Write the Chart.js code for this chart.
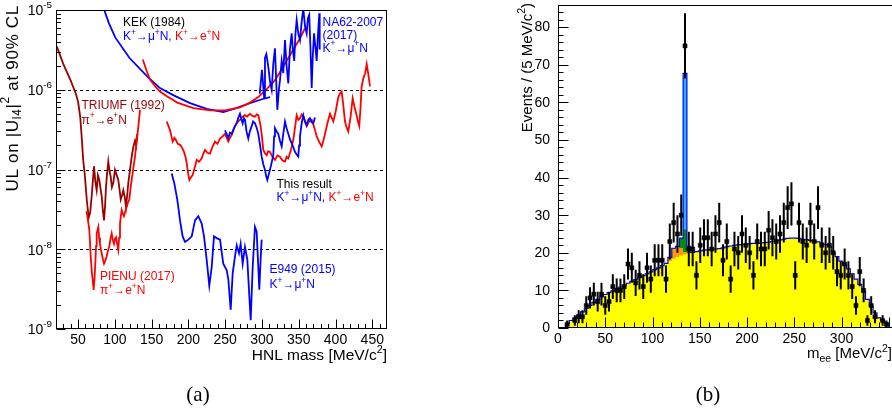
<!DOCTYPE html>
<html><head><meta charset="utf-8">
<script src="https://cdn.jsdelivr.net/npm/chart.js@4.4.1/dist/chart.umd.min.js"></script>
<style>
html,body{margin:0;padding:0;background:#fff;overflow:hidden;width:892px;height:416px;}
#c1{position:absolute;left:0;top:0;}
#c2{position:absolute;left:446px;top:0;}
</style></head><body>
<canvas id="c1" width="446" height="416"></canvas>
<canvas id="c2" width="452" height="416"></canvas>
<script>
// ================= Panel (a): upper limits on |U_l4|^2 =================
const massTicksA = [50,100,150,200,250,300,350,400,450];
const decadesA = [-9,-8,-7,-6,-5];
const dashedLevelsA = [1e-6,1e-7,1e-8];

const kekMu = [[84,1.1e-5],[92,6.8e-6],[100.7,4.5e-6],[120,2.5e-6],[143.6,1.48e-6],[161.4,1.05e-6],[180,8.5e-7],[202.2,6.8e-7],[225,5.75e-7],[247.5,5.25e-7],[265,5.9e-7],[283.7,6.8e-7],[300,7.6e-7],[310.9,8.1e-7]];
const kekE = [[138,2.4e-6],[143,1.74e-6],[148,1.33e-6],[155,1.1e-6],[161.4,9.5e-7],[170.7,8.3e-7],[185,6.9e-7],[206.7,5.9e-7],[230,5.5e-7],[250,5.5e-7],[270,6.0e-7],[283.7,6.9e-7],[295,8.1e-7],[306.4,1.02e-6],[317.7,1.32e-6],[329,1.95e-6],[342.6,3.2e-6],[351,4.3e-6],[358.5,5.9e-6]];
const na62Mu = [[297,8.9e-7],[300,1.78e-6],[303,7.9e-7],[304.1,2.5e-6],[306,2.8e-6],[308.6,1.95e-6],[311,1.26e-6],[313.2,1.0e-6],[315.4,2.1e-6],[317.7,3.3e-6],[319,1.58e-6],[320.9,5.6e-7],[323,1.0e-6],[324.5,1.32e-6],[326.8,2.3e-6],[329,1.62e-6],[331.3,4.2e-6],[333.5,2.0e-6],[335.8,1.2e-6],[338,3.2e-6],[340.4,5.1e-6],[342,3.2e-6],[343.9,2.3e-6],[345.5,5.0e-6],[347.2,7.5e-6],[349.5,5.0e-6],[351.7,4.2e-6],[354,7.1e-6],[356.2,1.05e-5],[358.5,6.3e-6],[360.8,5.1e-6],[362.5,7.9e-6],[364.3,8.7e-6],[366,3.2e-6],[367.6,1.05e-6],[369,2.5e-6],[370.8,5.1e-6],[372.6,3.5e-6],[374.4,2.3e-6],[376.2,5.0e-6],[378,9.1e-6],[378.5,3.2e-6]];
const triumfE = [[21,3.5e-6],[30,2.1e-6],[40,1.3e-6],[47,8.9e-7],[50,7.1e-7],[53,4.5e-7],[55,2.5e-7],[57,1.3e-7],[59,8.9e-8],[62,4.0e-8],[64.5,2.5e-8],[66.5,2.9e-8],[68.5,4.6e-8],[70.5,8.0e-8],[71.7,1.1e-7],[73.5,7.0e-8],[75.3,5.5e-8],[77,8.5e-8],[78.9,7.4e-8],[80.5,5.8e-8],[82.1,4.6e-8],[83.8,3.0e-8],[85.3,2.3e-8],[86.8,3.6e-8],[88,6.1e-8],[89.5,9.0e-8],[91.1,1.26e-7],[92.8,9.5e-8],[94.4,8.1e-8],[96,6.0e-8],[97.9,6.8e-8],[100.2,9.9e-8],[102.5,8.5e-8],[104.7,7.4e-8],[106.5,5.5e-8],[108,4.2e-8],[110,4.8e-8],[111.5,5.5e-8],[113.5,4.5e-8],[115.2,3.4e-8],[117,5.0e-8],[118.3,6.8e-8],[120.6,9.9e-8],[122.9,1.45e-7],[125,1.9e-7],[127.4,2.3e-7],[129,2.0e-7],[130.5,2.8e-7]];
const pienuE = [[61.5,3.0e-8],[63.5,2.3e-8],[65.3,1.74e-8],[67.2,8.1e-9],[68.7,5.2e-9],[69.9,4.1e-9],[71.2,3.1e-9],[72.4,4.3e-9],[73.4,6.6e-9],[74.5,1.1e-8],[75.3,1.58e-8],[76.5,1.75e-8],[77.5,1.9e-8],[78.6,1.4e-8],[79.8,1.17e-8],[81,1.0e-8],[82.1,8.9e-9],[83.8,7.5e-9],[85.3,6.6e-9],[87,7.2e-9],[88.9,8.1e-9],[90.5,9.5e-9],[92.4,1.07e-8],[94,1.35e-8],[95.7,1.58e-8],[97.3,1.3e-8],[98.8,1.17e-8],[100.2,1.35e-8],[101.6,1.41e-8],[103.2,1.15e-8],[104.7,9.8e-9],[105.8,1.4e-8],[107,2.1e-8],[108.2,2.6e-8],[109.3,3.1e-8],[110.8,2.8e-8],[112.4,2.6e-8],[114.2,3.0e-8],[116.1,3.4e-8],[118,3.9e-8],[119.7,4.2e-8],[121.3,5.8e-8],[122.9,7.4e-8],[125.2,1.05e-7],[127.4,1.45e-7],[129,2.0e-7],[130.5,2.6e-7],[132.4,3.8e-7],[134.2,5.6e-7]];
const e949Mu = [[177.3,8.9e-8],[181,6.6e-8],[184.9,4.2e-8],[188.6,2.3e-8],[192.2,1.45e-8],[195.4,1.24e-8],[199.9,1.32e-8],[204.5,1.45e-8],[209,2.3e-8],[213.5,2.6e-8],[218.1,2.1e-8],[221.2,1.45e-8],[224.9,7.3e-9],[228.4,3.5e-9],[231.7,6.0e-9],[234.8,1.45e-8],[238.5,1.38e-8],[243,1.32e-8],[247.4,6.6e-9],[252,5.5e-9],[254.3,4.2e-9],[257.5,1.74e-9],[260.2,5.0e-9],[263.3,8.1e-9],[265.7,1.12e-8],[268.8,8.9e-9],[271,1.17e-8],[273.8,6.6e-9],[276.9,1.07e-8],[280.1,7.4e-9],[282.8,2.6e-9],[284.7,1.29e-9],[287.4,6.0e-9],[290.5,1.9e-8],[292.8,1.66e-8],[295,6.0e-9],[296.4,3.1e-9],[298.3,7.9e-9],[299.6,1.32e-8]];
const thisE = [[170.5,4.0e-7],[172.5,3.6e-7],[175,3.1e-7],[177,2.6e-7],[178.6,2.24e-7],[181,2.5e-7],[183,2.34e-7],[185.5,2.1e-7],[188.6,2.04e-7],[191,1.9e-7],[194,1.66e-7],[196,1.45e-7],[197.7,1.2e-7],[199.5,9.0e-8],[201.3,7.4e-8],[203.5,8.0e-8],[205.8,8.5e-8],[208.5,1.05e-7],[211.3,1.32e-7],[214.5,1.25e-7],[218,1.38e-7],[220,1.55e-7],[222.5,1.76e-7],[226,1.62e-7],[229.4,1.58e-7],[232.5,1.9e-7],[236.1,2.24e-7],[239.5,2.1e-7],[243,2.45e-7],[246.5,2.6e-7],[249.7,2.8e-7],[252,2.5e-7],[254.2,2.24e-7],[256.5,2.5e-7],[258.8,2.7e-7],[261,3.1e-7],[263.3,3.5e-7],[266.5,3.9e-7],[270.1,4.2e-7],[273.5,4.6e-7],[276.9,4.8e-7],[280,4.6e-7],[283.7,5.0e-7],[287,4.7e-7],[290.5,4.6e-7],[293,4.9e-7],[295,4.8e-7],[297.5,3.8e-7],[299.6,2.8e-7],[301.8,1.76e-7],[304,1.6e-7],[306.4,1.51e-7],[308.5,1.7e-7],[310.9,1.66e-7],[314,1.45e-7],[317.7,1.32e-7],[321,1.5e-7],[324.5,1.45e-7],[328,1.3e-7],[331.3,1.26e-7],[333.5,1.45e-7],[335.8,1.38e-7],[339,1.7e-7],[342.6,2.34e-7],[345,3.4e-7],[347.2,4.8e-7],[349.5,4.2e-7],[351.7,4.4e-7],[354,4.9e-7],[356.2,4.6e-7],[358.5,4.0e-7],[360.8,3.5e-7],[364,4.0e-7],[367.6,4.2e-7],[371,3.4e-7],[374.4,2.6e-7],[378,2.2e-7],[381.2,1.95e-7],[383.5,2.3e-7],[385.7,2.8e-7],[389,3.8e-7],[392.5,5.0e-7],[395,4.4e-7],[397,4.0e-7],[400.5,5.5e-7],[403.8,8.1e-7],[406,9.0e-7],[408.4,9.5e-7],[410.5,6.5e-7],[412.9,4.0e-7],[415,3.4e-7],[417.4,3.0e-7],[420.5,4.6e-7],[423.3,7.8e-7],[426,6.0e-7],[428.7,4.8e-7],[430.5,4.0e-7],[432.3,3.5e-7],[434,6.0e-7],[435.5,1.1e-6],[438,1.41e-6],[440.2,1.6e-6],[442.4,2.1e-6],[444.5,1.58e-6],[446.9,1.1e-6]];
const thisMu = [[249.7,3.1e-7],[252,2.8e-7],[254.2,2.45e-7],[256.5,2.9e-7],[259,2.8e-7],[262,3.3e-7],[265.6,3.8e-7],[268,4.5e-7],[270.1,5.0e-7],[272,4.3e-7],[273.8,3.8e-7],[275.5,4.4e-7],[277,4.2e-7],[279,3.0e-7],[281.4,2.45e-7],[283.5,3.0e-7],[286,3.5e-7],[288,4.0e-7],[290.5,3.8e-7],[293,3.3e-7],[295,2.8e-7],[297.5,2.0e-7],[299.6,1.45e-7],[302,1.15e-7],[304.1,9.9e-8],[305.8,8.2e-8],[307.3,7.4e-8],[309,8.5e-8],[310.9,9.9e-8],[313,1.2e-7],[315.4,1.51e-7],[316.5,2.6e-7],[317.7,3.3e-7],[320,3.0e-7],[322.2,2.8e-7],[324.5,2.3e-7],[326.8,1.95e-7],[329,2.8e-7],[331.3,4.0e-7],[333.5,3.3e-7],[335.8,2.8e-7],[338,2.4e-7],[340.4,2.14e-7],[342.6,1.9e-7],[344.9,1.66e-7],[347,1.55e-7],[349.4,1.45e-7],[350.5,2.0e-7],[351.7,2.6e-7],[354,3.8e-7],[356.2,4.8e-7],[358.5,4.0e-7],[360.8,3.6e-7],[363,4.2e-7],[365.3,4.4e-7],[367.5,3.9e-7],[369.8,3.8e-7],[372.1,4.5e-7]];

// ================= Panel (b): m_ee spectrum =================
const massTicksB = [0,50,100,150,200,250,300];
const eventTicksB = [0,10,20,30,40,50,60,70,80];
const binCenters = [9.8,13.8,17.8,21.9,25.9,29.9,33.9,37.9,42.0,46.0,
  50.0,54.0,58.0,62.1,66.1,70.1,74.1,78.1,82.2,86.2,
  90.2,94.2,98.2,102.3,106.3,110.3,114.3,118.3,122.4,126.4,
  130.4,134.4,138.4,142.5,146.5,150.5,154.5,158.5,162.6,166.6,
  170.6,174.6,178.6,182.7,186.7,190.7,194.7,198.7,202.8,206.8,
  210.8,214.8,218.8,222.9,226.9,230.9,234.9,238.9,243.0,247.0,
  251.0,255.0,259.0,263.1,267.1,271.1,275.1,279.1,283.2,287.2,
  291.2,295.2,299.2,303.3,307.3,311.3,315.3,319.3,323.4,327.4,
  331.4,335.4,339.4,343.5,347.5];
const dataCounts = [1,null,2,3,3,6,8,9,7,9,
  6,7,11,10,10,11,17,16,12,14,
  11,16,13,18,18,18,13,23,28,25,
  30,75,21,21,14,22,24,24,21,25,
  28,18,23,13,21,20,25,22,20,14,
  23,21,21,26,24,23,25,28,32,33,
  14,28,23,22,28,23,32,22,20,22,
  20,15,14,17,14,11,6,15,10,2,
  6,3,null,2,1];
const bkgMain = [1.2,2.0,2.7,3.4,4.3,5.2,6.0,6.8,7.6,8.3,
  8.9,9.4,9.9,10.4,10.9,11.4,11.9,12.4,12.9,13.4,
  13.9,14.4,14.9,15.5,16.0,16.6,17.2,17.8,18.4,18.9,
  19.3,19.6,19.9,20.1,20.3,20.5,20.7,20.8,20.9,21.0,
  21.1,21.3,21.6,21.8,22.0,22.1,22.2,22.3,22.4,22.5,
  22.5,22.6,22.7,22.8,23.0,23.2,23.4,23.6,23.8,23.9,
  23.9,23.8,23.6,23.5,23.3,23.1,22.9,22.6,22.2,21.6,
  20.0,19.0,17.8,16.8,15.7,14.4,13.0,11.6,9.6,7.6,
  5.8,4.0,2.7,2.0,1.2];
const peakBins = [27,28,29,30,31,32];
const peakOrange = [1.0,2.8,2.8,2.0,0.6,0];
const peakGreen = [0,0,0,2.6,6.0,1.8];
const peakCyan = [0,0,0,0,41.5,0];

// ================= helpers =================
const SANS = "'Liberation Sans', Arial, Helvetica, sans-serif";
function setFont(ctx, size){ ctx.font = size + 'px ' + SANS; }
function richWidth(ctx, parts, size){
  let w = 0;
  for (const p of parts){ setFont(ctx, p.s ? size*0.7 : size); w += ctx.measureText(p.t).width; }
  return w;
}
function drawRich(ctx, x, y, parts, size, align, color){
  const w = richWidth(ctx, parts, size);
  let cx = align === 'right' ? x - w : (align === 'center' ? x - w/2 : x);
  ctx.textAlign = 'left';
  for (const p of parts){
    const sz = p.s ? size*0.7 : size;
    setFont(ctx, sz);
    ctx.fillStyle = p.c || color || '#000';
    const dy = p.s === 'sup' ? -size*0.42 : (p.s === 'sub' ? size*0.25 : 0);
    ctx.fillText(p.t, cx, y + dy);
    cx += ctx.measureText(p.t).width;
  }
}
const BLUE = '#0000ff', RED = '#ff0000', DRED = '#990000';
function kmu(c){ return [{t:'K',c},{t:'+',s:'sup',c},{t:'\u2192\u03bc',c},{t:'+',s:'sup',c},{t:'N',c}]; }
function ke(c){ return [{t:'K',c},{t:'+',s:'sup',c},{t:'\u2192e',c},{t:'+',s:'sup',c},{t:'N',c}]; }
function pie(c){ return [{t:'\u03c0',c},{t:'+',s:'sup',c},{t:'\u2192e',c},{t:'+',s:'sup',c},{t:'N',c}]; }
const toXY = arr => arr.map(p => ({x:p[0], y:p[1]}));
function lineDs(arr, color){
  return {data: toXY(arr), borderColor: color, borderWidth: 1.8, pointRadius: 0, tension: 0, fill: false};
}

function drawFrameAndTicks(ctx, ca, xs, ys, xMajor, xMinor, yMajor, yMinor, lenX, lenY){
  ctx.save();
  ctx.strokeStyle = '#000'; ctx.lineWidth = 1;
  const L = Math.round(ca.left)+0.5, R = Math.round(ca.right)-0.5, T = Math.round(ca.top)+0.5, B = Math.round(ca.bottom)-0.5;
  ctx.strokeRect(L, T, R-L, B-T);
  ctx.beginPath();
  for (const v of xMajor){ const x = Math.round(xs.getPixelForValue(v))+0.5; ctx.moveTo(x,B); ctx.lineTo(x,B-lenX); }
  for (const v of xMinor){ const x = Math.round(xs.getPixelForValue(v))+0.5; ctx.moveTo(x,B); ctx.lineTo(x,B-lenX/2); }
  for (const v of yMajor){ const y = Math.round(ys.getPixelForValue(v))+0.5; ctx.moveTo(L,y); ctx.lineTo(L+lenY,y); }
  for (const v of yMinor){ const y = Math.round(ys.getPixelForValue(v))+0.5; ctx.moveTo(L,y); ctx.lineTo(L+lenY/2,y); }
  ctx.stroke();
  ctx.restore();
}

// ================= Chart (a) =================
const plotA = {
  id: 'plotA',
  beforeDatasetsDraw(chart){
    const {ctx, chartArea: ca, scales: {y}} = chart;
    ctx.save();
    ctx.strokeStyle = '#000'; ctx.lineWidth = 1; ctx.setLineDash([3,3]);
    ctx.beginPath();
    for (const v of dashedLevelsA){ const py = Math.round(y.getPixelForValue(v))+0.5; ctx.moveTo(ca.left, py); ctx.lineTo(ca.right, py); }
    ctx.stroke();
    ctx.restore();
  },
  afterDraw(chart){
    const {ctx, chartArea: ca, scales: {x, y}} = chart;
    const xMinor = [];
    for (let v = 30; v <= 460; v += 10) if (v % 50 !== 0) xMinor.push(v);
    const yMajor = decadesA.map(e => Math.pow(10, e));
    const yMinor = [];
    for (let e = -9; e < -5; e++) for (let m = 2; m <= 9; m++) yMinor.push(m*Math.pow(10, e));
    drawFrameAndTicks(ctx, ca, x, y, massTicksA, xMinor, yMajor, yMinor, 9, 9);
    ctx.save();
    ctx.textBaseline = 'middle';
    for (const v of massTicksA) drawRich(ctx, x.getPixelForValue(v), 340, [{t:String(v)}], 14, 'center');
    for (const e of decadesA) drawRich(ctx, 52, y.getPixelForValue(Math.pow(10, e)) + 1.5, [{t:'10'},{t:String(e), s:'sup'}], 14, 'right');
    ctx.textBaseline = 'alphabetic';
    drawRich(ctx, 387, 360, [{t:'HNL mass [MeV/c'},{t:'2', s:'sup'},{t:']'}], 15.5, 'right');
    // y title
    ctx.save();
    ctx.translate(13, 5);
    ctx.rotate(-Math.PI/2);
    ctx.textBaseline = 'middle';
    ctx.letterSpacing = '0.7px';
    drawRich(ctx, 0, 0, [{t:'UL on |U'},{t:'l4', s:'sub'},{t:'|'},{t:'2', s:'sup'},{t:' at 90% CL'}], 17, 'right');
    ctx.restore();
    // annotations
    const F = 12;
    drawRich(ctx, 123, 25.5, [{t:'KEK (1984)'}], F, 'left', '#000');
    drawRich(ctx, 123, 40, kmu(BLUE).concat([{t:', ', c:BLUE}], ke(RED)), F, 'left');
    drawRich(ctx, 322.5, 25.5, [{t:'NA62-2007'}], F, 'left', BLUE);
    drawRich(ctx, 322.5, 38.5, [{t:'(2017)'}], F, 'left', BLUE);
    drawRich(ctx, 322.5, 51.5, kmu(BLUE), F, 'left');
    drawRich(ctx, 81.5, 109, [{t:'TRIUMF (1992)'}], F, 'left', DRED);
    drawRich(ctx, 81.5, 123.5, pie(DRED), F, 'left');
    drawRich(ctx, 276.5, 187.5, [{t:'This result'}], F, 'left', '#000');
    drawRich(ctx, 276.5, 201, kmu(BLUE).concat([{t:', ', c:BLUE}], ke(RED)), F, 'left');
    drawRich(ctx, 100, 279.5, [{t:'PIENU (2017)'}], F, 'left', RED);
    drawRich(ctx, 100, 294, pie(RED), F, 'left');
    drawRich(ctx, 269.5, 272.5, [{t:'E949 (2015)'}], F, 'left', BLUE);
    drawRich(ctx, 269.5, 288, kmu(BLUE), F, 'left');
    // panel label
    ctx.font = "21px 'Liberation Serif', 'Times New Roman', serif";
    ctx.fillStyle = '#000'; ctx.textAlign = 'center';
    ctx.fillText('(a)', 198, 401);
    ctx.restore();
  }
};

new Chart(document.getElementById('c1'), {
  type: 'line',
  data: { datasets: [
    lineDs(thisMu, BLUE), lineDs(thisE, RED), lineDs(e949Mu, BLUE), lineDs(na62Mu, BLUE),
    lineDs(pienuE, RED), lineDs(triumfE, DRED), lineDs(kekE, RED), lineDs(kekMu, BLUE)
  ]},
  options: {
    responsive: false, animation: false, devicePixelRatio: 1, events: [],
    layout: { padding: {top: 10, right: 59, left: 0, bottom: 0} },
    plugins: { legend: {display: false}, tooltip: {enabled: false} },
    scales: {
      x: { type: 'linear', min: 20, max: 470, grid: {display: false, drawTicks: false}, border: {display: false}, ticks: {display: false},
           afterFit: s => { s.height = 87; } },
      y: { type: 'logarithmic', min: 1e-9, max: 1e-5, grid: {display: false, drawTicks: false}, border: {display: false}, ticks: {display: false},
           afterFit: s => { s.width = 56; } }
    }
  },
  plugins: [plotA]
});

// ================= Chart (b) =================
const halfW = (binCenters[1] - binCenters[0]) / 2;
const edges = binCenters.map(c => c - halfW).concat([binCenters[binCenters.length-1] + halfW]);
function expand(sparse){ const a = binCenters.map(() => 0); peakBins.forEach((b, i) => { a[b] = sparse[i]; }); return a; }
const orangeFull = expand(peakOrange), greenFull = expand(peakGreen), cyanFull = expand(peakCyan);
const cumO = bkgMain.map((v, i) => v + orangeFull[i]);
const cumG = cumO.map((v, i) => v + greenFull[i]);
const cumC = cumG.map((v, i) => v + cyanFull[i]);
function stepData(vals){ const d = vals.map((v, i) => ({x: edges[i], y: v})); d.push({x: edges[vals.length], y: vals[vals.length-1]}); return d; }
function outlineData(vals){ return [{x: edges[0], y: 0}].concat(stepData(vals), [{x: edges[vals.length], y: 0}]); }
function fillDs(vals, color){
  return {data: stepData(vals), stepped: 'before', fill: 'origin', backgroundColor: color, borderColor: 'rgba(0,0,0,0)', borderWidth: 0, pointRadius: 0};
}
const pointsData = [];
binCenters.forEach((c, i) => { if (dataCounts[i] !== null) pointsData.push({x: c, y: dataCounts[i]}); });

const plotB = {
  id: 'plotB',
  afterDatasetsDraw(chart){
    const {ctx, chartArea: ca, scales: {x, y}} = chart;
    ctx.save();
    ctx.beginPath(); ctx.rect(ca.left, ca.top, ca.right-ca.left, ca.bottom-ca.top); ctx.clip();
    ctx.strokeStyle = '#000'; ctx.lineWidth = 2;
    ctx.beginPath();
    for (const p of pointsData){
      const e = Math.sqrt(p.y);
      const px = x.getPixelForValue(p.x);
      ctx.moveTo(px, y.getPixelForValue(Math.max(0, p.y - e)));
      ctx.lineTo(px, y.getPixelForValue(p.y + e));
    }
    ctx.stroke();
    ctx.restore();
  },
  afterDraw(chart){
    const {ctx, chartArea: ca, scales: {x, y}} = chart;
    const xMajor = [0,50,100,150,200,250,300,350];
    const xMinor = [];
    for (let v = 10; v <= 350; v += 10) if (v % 50 !== 0) xMinor.push(v);
    const yMinor = [];
    for (let v = 2; v <= 86; v += 2) if (v % 10 !== 0) yMinor.push(v);
    drawFrameAndTicks(ctx, ca, x, y, xMajor, xMinor, eventTicksB, yMinor, 10, 10);
    ctx.save();
    ctx.textBaseline = 'middle';
    for (const v of massTicksB) drawRich(ctx, x.getPixelForValue(v), 339, [{t:String(v)}], 14, 'center');
    for (const v of eventTicksB) drawRich(ctx, 104, y.getPixelForValue(v) + 0.5, [{t:String(v)}], 14, 'right');
    ctx.textBaseline = 'alphabetic';
    drawRich(ctx, 446, 358, [{t:'m'},{t:'ee', s:'sub'},{t:' [MeV/c'},{t:'2', s:'sup'},{t:']'}], 15, 'right');
    ctx.save();
    ctx.translate(82, 3);
    ctx.rotate(-Math.PI/2);
    ctx.textBaseline = 'middle';
    drawRich(ctx, 0, 0, [{t:'Events / (5 MeV/c'},{t:'2', s:'sup'},{t:')'}], 15, 'right');
    ctx.restore();
    ctx.font = "21px 'Liberation Serif', 'Times New Roman', serif";
    ctx.fillStyle = '#000'; ctx.textAlign = 'center';
    ctx.fillText('(b)', 262, 401);
    ctx.restore();
  }
};

new Chart(document.getElementById('c2'), {
  type: 'line',
  data: { datasets: [
    {data: pointsData, showLine: false, pointStyle: 'rect', pointRadius: 2.9, pointBackgroundColor: '#000', pointBorderColor: '#000', pointBorderWidth: 0.5, borderColor: '#000'},
    {data: outlineData(cumC), stepped: 'before', fill: false, borderColor: BLUE, borderWidth: 1.2, pointRadius: 0},
    fillDs(bkgMain, '#ffff00'),
    fillDs(cumO, '#ff9900'),
    fillDs(cumG, '#008c00'),
    fillDs(cumC, '#22b4ff')
  ]},
  options: {
    responsive: false, animation: false, devicePixelRatio: 1, events: [],
    layout: { padding: {top: 3, right: 2, left: 0, bottom: 0} },
    plugins: { legend: {display: false}, tooltip: {enabled: false} },
    scales: {
      x: { type: 'linear', min: 0, max: 355, grid: {display: false, drawTicks: false}, border: {display: false}, ticks: {display: false},
           afterFit: s => { s.height = 88; } },
      y: { type: 'linear', min: 0, max: 86, grid: {display: false, drawTicks: false}, border: {display: false}, ticks: {display: false},
           afterFit: s => { s.width = 112; } }
    }
  },
  plugins: [plotB]
});
</script>
</body></html>
